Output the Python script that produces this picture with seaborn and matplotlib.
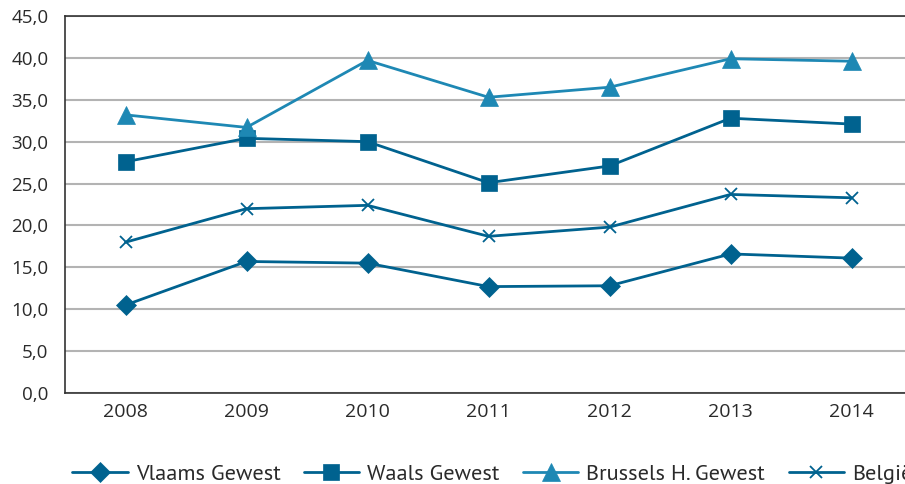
import matplotlib
matplotlib.use("Agg")
import matplotlib.pyplot as plt
import seaborn as sns
import pandas as pd

years = ["2008", "2009", "2010", "2011", "2012", "2013", "2014"]
vlaams = [10.5, 15.7, 15.5, 12.7, 12.8, 16.6, 16.1]
waals = [27.6, 30.4, 30.0, 25.1, 27.1, 32.8, 32.1]
brussel = [33.2, 31.7, 39.7, 35.3, 36.5, 39.9, 39.6]
belgie = [18.0, 22.0, 22.4, 18.7, 19.8, 23.7, 23.3]

series = ["Vlaams Gewest", "Waals Gewest", "Brussels H. Gewest", "België"]
values = [vlaams, waals, brussel, belgie]

dark = "#00628f"
light = "#1e88b4"
colors = [dark, dark, light, dark]
markers = ["D", "s", "^", "x"]
msizes = [10, 12, 13, 9]

df = pd.DataFrame({
    "jaar": [i for _ in series for i in range(len(years))],
    "waarde": [v for vals in values for v in vals],
    "reeks": [s for s in series for _ in years],
})

sns.set_style("white")
plt.rcParams["font.family"] = ["Open Sans", "DejaVu Sans"]

fig = plt.figure(figsize=(9.05, 4.84), dpi=100)
ax = fig.add_axes([65 / 905, 1 - 393 / 484, 847 / 905, 377 / 484])

handles = []
for name, col, mk, ms in zip(series, colors, markers, msizes):
    sub = df[df["reeks"] == name]
    sns.lineplot(data=sub, x="jaar", y="waarde", ax=ax, color=col, marker=mk,
                 markersize=ms, linewidth=2.0, markeredgewidth=1.3 if mk == "x" else 0.5,
                 markeredgecolor=col, label=name, legend=False)
    handles.append(ax.lines[-1])

ax.set_xlim(-0.5, len(years) - 0.5)
ax.set_ylim(0, 45)
ax.set_yticks([i * 5 for i in range(10)])
ax.set_yticklabels([f"{i * 5},0" for i in range(10)])
ax.set_xticks(range(len(years)))
ax.set_xticklabels(years)
ax.set_xticks([i - 0.5 for i in range(len(years) + 1)], minor=True)
ax.tick_params(axis="x", which="major", length=0, pad=7, labelsize=14, colors="#2a2a2a")
ax.tick_params(axis="x", which="minor", length=8, width=1.2, color="#333333", direction="out")
ax.tick_params(axis="y", length=8, width=1.2, color="#333333", direction="out", labelsize=13.5,
               colors="#2a2a2a", pad=4)
ax.set_xlabel("")
ax.set_ylabel("")
ax.grid(axis="y", color="#b3b3b3", linewidth=1.5)
ax.set_axisbelow(True)
for side in ["left", "bottom", "top"]:
    ax.spines[side].set_color("#333333")
    ax.spines[side].set_linewidth(1.2)
ax.spines["right"].set_visible(False)

fig.legend(handles=handles, labels=series, loc="center left",
           bbox_to_anchor=(52 / 905, 1 - 474 / 484), ncol=4, frameon=False,
           prop={"family": "PT Sans", "size": 16}, handlelength=2.5,
           columnspacing=1.05, handletextpad=0.36, labelcolor="#2a2a2a")

fig.savefig("out.png", dpi=100)
